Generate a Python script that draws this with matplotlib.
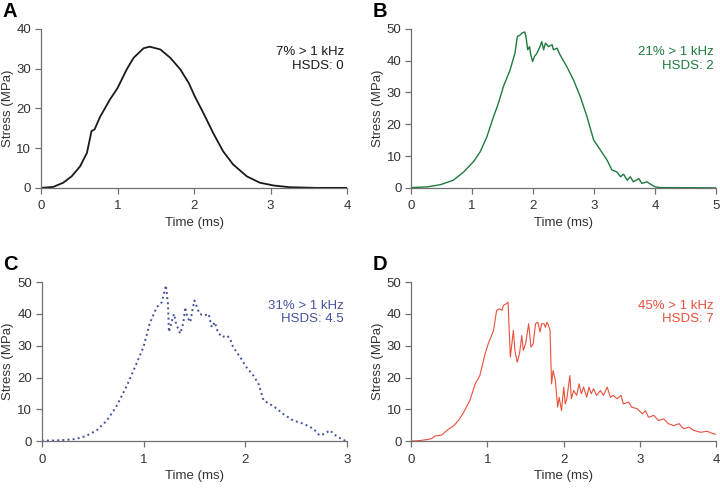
import matplotlib
matplotlib.use("Agg")
import matplotlib.pyplot as plt

plt.rcParams['font.family'] = ['Liberation Sans', 'DejaVu Sans']

# Panel A: smooth pulse
a_time = [0, 0.16, 0.29, 0.40, 0.51, 0.60, 0.66, 0.70, 0.77, 0.90, 1.00, 1.12, 1.21,
          1.34, 1.42, 1.56, 1.69, 1.82, 1.93, 2.01, 2.12, 2.25, 2.38, 2.51, 2.69,
          2.86, 3.04, 3.25, 3.60, 4.00]
a_stress = [0, 0.25, 1.3, 2.9, 5.4, 8.8, 14.3, 14.7, 17.8, 22.2, 25.1, 29.8, 32.7,
            35.1, 35.5, 34.8, 32.7, 29.8, 26.4, 23.0, 18.9, 13.8, 9.2, 5.9, 2.9,
            1.3, 0.6, 0.17, 0, 0]

# Panel B
b_time = [0, 0.26, 0.48, 0.69, 0.86, 1.02, 1.13, 1.24, 1.35, 1.43, 1.51, 1.62, 1.70,
          1.74, 1.79, 1.81, 1.86, 1.88, 1.91, 1.94, 1.96, 1.99, 2.02, 2.06, 2.11,
          2.14, 2.17, 2.20, 2.25, 2.31, 2.33, 2.39, 2.44, 2.55, 2.66, 2.77, 2.88,
          2.99, 3.10, 3.21, 3.29, 3.37, 3.43, 3.48, 3.54, 3.59, 3.64, 3.73, 3.78,
          3.86, 3.95, 4.00, 4.08, 5.00]
b_stress = [0.1, 0.3, 1.0, 2.4, 5.0, 8.2, 11.3, 16.0, 22.4, 26.6, 31.8, 37.0, 42.3,
            47.6, 48.1, 48.6, 49.0, 47.6, 43.4, 44.4, 41.8, 39.7, 41.3, 42.3, 44.4,
            46.0, 43.4, 45.5, 44.4, 45.0, 43.4, 43.9, 41.8, 38.1, 33.9, 28.7, 22.4,
            15.0, 11.9, 8.7, 5.6, 5.0, 3.5, 4.3, 2.4, 3.5, 1.9, 2.9, 1.4,
            1.9, 0.8, 0.3, 0.1, 0]

# Panel C
c_time = [0, 0.11, 0.24, 0.34, 0.44, 0.54, 0.64, 0.73, 0.83, 0.93, 1.00, 1.06, 1.13,
          1.18, 1.22, 1.24, 1.25, 1.28, 1.30, 1.32, 1.36, 1.39, 1.41, 1.43, 1.46,
          1.48, 1.50, 1.55, 1.60, 1.64, 1.67, 1.70, 1.73, 1.77, 1.82, 1.85, 1.88,
          1.95, 2.01, 2.08, 2.13, 2.18, 2.24, 2.31, 2.37, 2.47, 2.57, 2.67, 2.73,
          2.78, 2.83, 2.90, 2.96, 3.00]
c_stress = [0.2, 0.2, 0.4, 0.7, 1.7, 3.4, 6.5, 10.7, 17.0, 24.3, 29.6, 36.9, 42.1,
            43.7, 49.0, 43.2, 34.3, 37.9, 40.0, 36.9, 33.8, 36.9, 42.1, 39.0, 37.4,
            41.1, 44.2, 40.0, 39.5, 40.0, 35.8, 37.4, 34.3, 32.7, 33.2, 32.2, 29.6,
            26.4, 23.3, 20.6, 18.0, 12.8, 11.7, 10.2, 8.6, 6.5, 5.5, 3.9, 1.8,
            2.3, 3.4, 1.5, 0.4, 0]

# Panel D
d_time = [0, 0.12, 0.21, 0.27, 0.31, 0.40, 0.47, 0.56, 0.62, 0.69, 0.77, 0.84, 0.90,
          0.97, 1.01, 1.08, 1.12, 1.16, 1.19, 1.21, 1.25, 1.27, 1.30, 1.32, 1.34,
          1.36, 1.39, 1.42, 1.45, 1.47, 1.50, 1.54, 1.57, 1.60, 1.63, 1.66, 1.69,
          1.71, 1.74, 1.76, 1.78, 1.80, 1.82, 1.84, 1.86, 1.89, 1.92, 1.94, 1.97,
          2.00, 2.02, 2.04, 2.08, 2.10, 2.13, 2.17, 2.20, 2.23, 2.26, 2.30, 2.33,
          2.36, 2.39, 2.43, 2.48, 2.52, 2.57, 2.61, 2.65, 2.70, 2.75, 2.78, 2.85,
          2.89, 2.96, 3.03, 3.07, 3.11, 3.18, 3.24, 3.31, 3.37, 3.44, 3.51, 3.57,
          3.64, 3.70, 3.79, 3.88, 3.94, 4.00]
d_stress = [0, 0.2, 0.5, 0.8, 1.6, 1.9, 3.4, 4.9, 6.5, 9.1, 12.8, 18.0, 20.6,
            27.5, 30.6, 34.8, 41.1, 41.6, 41.1, 42.7, 43.2, 43.7, 26.4, 30.6, 34.8,
            28.5, 24.8, 27.5, 33.2, 28.5, 30.6, 36.9, 29.6, 30.6, 36.9, 37.4, 34.3,
            36.9, 36.9, 35.8, 37.4, 36.4, 34.8, 18.0, 22.2, 19.1, 10.7, 13.8, 9.6,
            17.0, 11.7, 13.3, 20.6, 13.3, 15.9, 14.4, 18.0, 14.9, 17.0, 13.8, 17.0,
            14.9, 16.5, 14.4, 15.9, 14.4, 17.0, 13.8, 14.4, 13.3, 14.4, 11.7, 12.3,
            10.7, 10.2, 8.6, 9.6, 7.5, 8.1, 6.5, 7.0, 5.5, 4.9, 5.5, 3.9,
            4.4, 3.4, 2.8, 3.1, 2.5, 2.1]

panels = [
    # letter, rect, x, y, xmax, ymax, colour, style, lw, note
    ("A", [0.057, 0.615, 0.425, 0.326], a_time, a_stress, 4, 40, "#1a1a1a", "-", 1.3,
     "7% > 1 kHz\nHSDS: 0"),
    ("B", [0.571, 0.615, 0.424, 0.326], b_time, b_stress, 5, 50, "#1f7a3f", "-", 1.0,
     "21% > 1 kHz\nHSDS: 2"),
    ("C", [0.058, 0.096, 0.424, 0.326], c_time, c_stress, 3, 50, "#45529c", ":", 1.4,
     "31% > 1 kHz\nHSDS: 4.5"),
    ("D", [0.571, 0.096, 0.424, 0.326], d_time, d_stress, 4, 50, "#e8503a", "-", 0.8,
     "45% > 1 kHz\nHSDS: 7"),
]

fig = plt.figure(figsize=(7.2, 4.88), dpi=100)

for letter, rect, x, y, xmax, ymax, colour, style, lw, note in panels:
    ax = fig.add_axes(rect)
    ax.plot(x, y, color=colour, linestyle=style, linewidth=lw)
    ax.set_xlim(0, xmax)
    ax.set_ylim(0, ymax)
    ax.set_xticks(range(0, xmax + 1))
    ax.set_yticks(range(0, ymax + 1, 10))
    for s in ["top", "right"]:
        ax.spines[s].set_visible(False)
    for s in ["left", "bottom"]:
        ax.spines[s].set_color("#707070")
        ax.spines[s].set_linewidth(0.9)
    ax.tick_params(colors="#707070", labelcolor="#333333", labelsize=9.5,
                   length=4, width=0.9)
    ax.tick_params(axis="x", pad=5)
    ax.tick_params(axis="y", pad=3)
    ax.set_xlabel("Time (ms)", fontsize=9.5, color="#333333", labelpad=3)
    ax.set_ylabel("Stress (MPa)", fontsize=9.5, color="#333333", labelpad=2)
    ax.text(0.99, 0.89, note, transform=ax.transAxes, ha="right", va="top",
            fontsize=9.5, color=colour, linespacing=1.2)
    fig.text(rect[0] - 0.053, rect[1] + rect[3] + 0.016, letter, fontsize=14.5,
             fontweight="bold", ha="left", va="bottom")

fig.savefig("out.png", dpi=100)
